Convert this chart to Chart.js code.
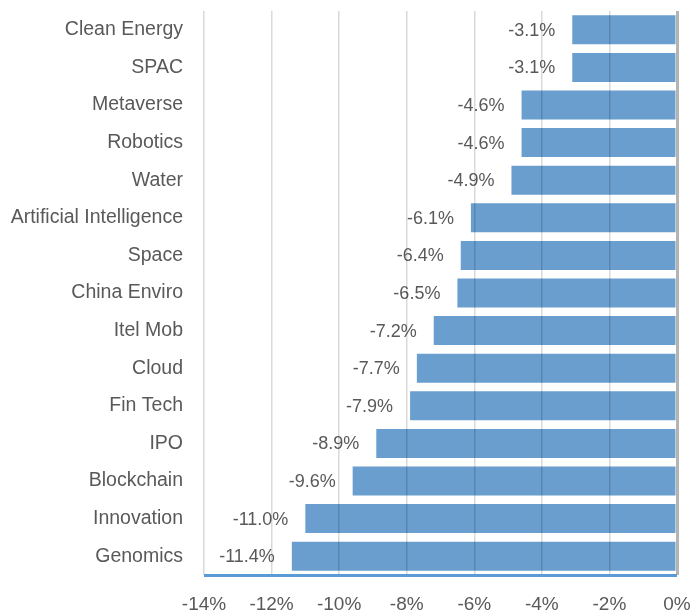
<!DOCTYPE html>
<html>
<head>
<meta charset="utf-8">
<script src="https://cdn.jsdelivr.net/npm/chart.js@4.4.1/dist/chart.umd.min.js"></script>
<style>
  html, body { margin: 0; padding: 0; background: #fff; }
  #wrap { width: 692px; height: 614px; }
</style>
</head>
<body>
<div id="wrap"><canvas id="myChart" width="692" height="614"></canvas></div>
<script>
'use strict';

// themes and their returns (%)
const themes = [
    'Clean Energy', 'SPAC', 'Metaverse', 'Robotics', 'Water',
    'Artificial Intelligence', 'Space', 'China Enviro', 'Itel Mob', 'Cloud',
    'Fin Tech', 'IPO', 'Blockchain', 'Innovation', 'Genomics'
];
const returns = [
    -3.1, -3.1, -4.6, -4.6, -4.9,
    -6.1, -6.4, -6.5, -7.2, -7.7,
    -7.9, -8.9, -9.6, -11.0, -11.4
];
const xTicks = [-14, -12, -10, -8, -6, -4, -2, 0];

const barColor = '#699ecf';
const textColor = '#595959';
const fontFamily = '"Liberation Sans", Arial, sans-serif';

// draws the value labels just left of each bar end, then the blue baseline
const valueLabels = {
    id: 'valueLabels',
    afterDatasetsDraw(chart) {
        let ctx = chart.ctx;
        let meta = chart.getDatasetMeta(0);
        ctx.save();
        ctx.font = '18px ' + fontFamily;
        ctx.fillStyle = textColor;
        ctx.textAlign = 'right';
        ctx.textBaseline = 'middle';
        meta.data.forEach((bar, i) => {
            ctx.fillText(returns[i].toFixed(1) + '%', bar.x - 17, bar.y + 1);
        });
        ctx.restore();
    },
    afterDraw(chart) {
        let ctx = chart.ctx;
        let area = chart.chartArea;
        ctx.save();
        ctx.strokeStyle = '#5b9bd5';
        ctx.lineWidth = 3;
        ctx.beginPath();
        ctx.moveTo(area.left, area.bottom + 0.5);
        ctx.lineTo(area.right, area.bottom + 0.5);
        ctx.stroke();
        ctx.restore();
    }
};

let chartConfig = {
    type: 'bar',
    data: {
        labels: themes,
        datasets: [
            {
                data: returns,
                backgroundColor: barColor,
                borderWidth: 0,
                categoryPercentage: 1,
                barPercentage: 0.77
            }
        ]
    },
    options: {
        indexAxis: 'y',
        responsive: false,
        animation: false,
        layout: {
            padding: { top: 11, right: 15, bottom: 0, left: 0 }
        },
        plugins: {
            legend: { display: false },
            tooltip: { enabled: false }
        },
        scales: {
            x: {
                min: -14,
                max: 0,
                afterBuildTicks(axis) {
                    axis.ticks = xTicks.map(v => ({ value: v }));
                },
                afterFit(axis) {
                    axis.height = 39;
                    axis.paddingLeft = 0;
                    axis.paddingRight = 0;
                },
                grid: {
                    z: 1,
                    drawTicks: false,
                    color: ctx => ctx.tick && ctx.tick.value === 0 ? '#b4b4b4' : 'rgba(0,0,0,0.15)',
                    lineWidth: ctx => ctx.tick && ctx.tick.value === 0 ? 3 : 1.5
                },
                border: { display: false },
                ticks: {
                    padding: 18,
                    color: textColor,
                    font: { family: fontFamily, size: 19 },
                    callback: v => v + '%'
                }
            },
            y: {
                afterFit(axis) {
                    axis.width = 204;
                    axis.paddingTop = 0;
                    axis.paddingBottom = 0;
                },
                grid: { display: false, drawTicks: false },
                border: { display: false },
                ticks: {
                    padding: 21,
                    color: textColor,
                    font: { family: fontFamily, size: 19.5 }
                }
            }
        }
    },
    plugins: [valueLabels]
};

let chartInstance = new Chart(document.getElementById('myChart'), chartConfig);
</script>
</body>
</html>
